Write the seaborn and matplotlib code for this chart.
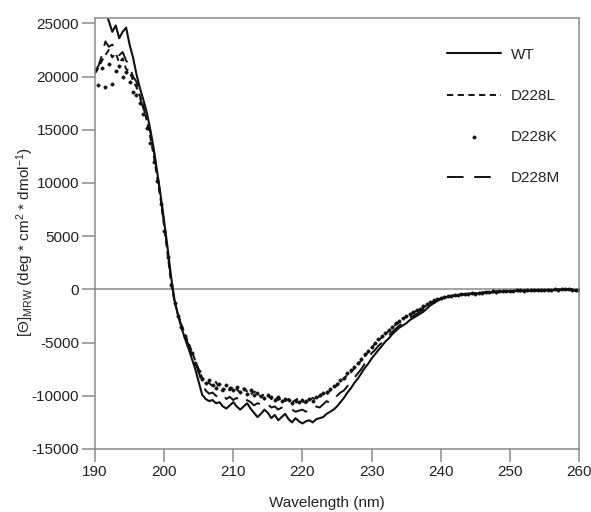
import numpy as np
import pandas as pd
import matplotlib
matplotlib.use("Agg")
import matplotlib.pyplot as plt
import seaborn as sns

# wavelength grid (nm), 0.5 nm steps from 190 to 260
wavelength = np.arange(190, 260.5, 0.5)

wt = [
    28500, 27800, 27000, 26200, 25200, 24200, 24800, 23600, 24200, 24600,
    23000, 21800, 20200, 18900, 17800, 16600, 15000, 13200, 11000, 8800,
    6400, 3900, 1200, -1000, -2400, -3600, -4600, -5500, -6500, -7500,
    -8700, -9900, -10300, -10500, -10400, -10700, -10600, -11000, -11200, -10900,
    -10600, -11000, -11300, -11000, -10700, -11200, -11600, -12000, -11700, -11300,
    -11600, -12100, -11800, -12300, -12000, -11700, -12200, -12500, -12100, -12400,
    -12600, -12400, -12300, -12500, -12200, -12100, -12000, -11700, -11500, -11300,
    -11000, -10600, -10200, -9700, -9300, -8800, -8400, -7900, -7400, -7000,
    -6500, -6100, -5700, -5300, -4900, -4600, -4200, -3900, -3600, -3400,
    -3200, -2900, -2700, -2500, -2300, -2100, -1800, -1500, -1300, -1100,
    -900, -800, -700, -650, -600, -550, -500, -500, -450, -400,
    -450, -350, -300, -350, -250, -300, -200, -250, -200, -150,
    -200, -150, -150, -200, -100, -150, -150, -100, -150, -100,
    -100, -50, -100, -50, -50, 0, 0, -50, 0, -150,
    -100,
]

d228l = [
    20300, 20800, 21500, 22000, 22500, 21800, 22200, 21300, 21700, 20700,
    20500, 19600, 19000, 18200, 17200, 15800, 14300, 12500, 10500, 8400,
    5900, 3300, 600, -1200, -2300, -3300, -4200, -5000, -5800, -6700,
    -7500, -8300, -8600, -8800, -9100, -8700, -9300, -9600, -9200, -9500,
    -9100, -9400, -9700, -9300, -9600, -9900, -9600, -9800, -10100, -9800,
    -10000, -10300, -10100, -10400, -10200, -10500, -10300, -10600, -10400, -10200,
    -10500, -10700, -10400, -10200, -10400, -10000, -9800, -9900, -9500, -9300,
    -9000, -8700, -8400, -8000, -7800, -7400, -7000, -6700, -6300, -5900,
    -5500, -5100, -4800, -4500, -4200, -3900, -3600, -3300, -3100, -2800,
    -2600, -2400, -2200, -2000, -1900, -1700, -1500, -1300, -1100, -950,
    -850, -750, -700, -600, -550, -500, -500, -450, -400, -400,
    -350, -400, -300, -250, -300, -200, -250, -200, -150, -200,
    -150, -150, -100, -150, -100, -150, -100, -100, -50, -100,
    -100, -50, -50, -100, 0, -50, 0, 50, -50, -100,
    -150,
]

d228k = [
    20600, 19200, 20800, 19000, 21200, 19300, 20500, 21000, 20000, 20400,
    19500, 18500, 18300, 17500, 16500, 15200, 13800, 12000, 10200, 8000,
    5500, 3000, 400, -1300, -2500, -3500, -4400, -5200, -6000, -6900,
    -7700, -8400, -8800, -8500, -9000, -9300, -8900, -9400, -9000, -9300,
    -9500, -9200, -9600, -9400, -9800, -9500, -9900, -9700, -10000, -10200,
    -9900, -10100, -10400, -10100, -10500, -10300, -10400, -10700, -10500, -10600,
    -10400, -10500, -10300, -10500, -10100, -9900, -9700, -9600, -9400, -9100,
    -8900, -8500, -8300, -7900, -7600, -7300, -6900, -6500, -6100, -5800,
    -5400, -5000, -4700, -4400, -4100, -3800, -3500, -3200, -3000, -2700,
    -2500, -2300, -2100, -1900, -1800, -1600, -1400, -1200, -1000, -900,
    -800, -750, -650, -600, -550, -500, -450, -450, -400, -350,
    -400, -300, -300, -250, -250, -200, -250, -150, -200, -150,
    -150, -200, -100, -100, -150, -100, -100, -50, -100, -50,
    -50, -100, -50, 0, -50, 0, 50, 0, -50, -100,
    -100,
]

d228m = [
    20500, 21000, 22000, 23300, 22800, 23000, 22600, 22000, 22300, 21500,
    21000, 20000, 19500, 18000, 17000, 16200, 14800, 13000, 10900, 8700,
    6200, 3600, 900, -1100, -2400, -3400, -4300, -5200, -6000, -6900,
    -7800, -8800, -9500, -9800, -9700, -10000, -10200, -9900, -10300, -10100,
    -10400, -10200, -10500, -10700, -10400, -10600, -10900, -10700, -10800, -11000,
    -10800, -11100, -11000, -11300, -11100, -11200, -11400, -11300, -11500, -11400,
    -11300, -11500, -11200, -11300, -11000, -11100, -10800, -10500, -10700, -10300,
    -10000, -9700, -9500, -9100, -8700, -8300, -7900, -7500, -7000, -6600,
    -6000, -5700, -5300, -5000, -4600, -4300, -4000, -3700, -3400, -3200,
    -2900, -2700, -2500, -2300, -2100, -1900, -1700, -1400, -1200, -1000,
    -900, -800, -700, -650, -550, -500, -500, -450, -400, -400,
    -350, -350, -300, -300, -250, -250, -200, -200, -200, -150,
    -150, -150, -150, -100, -100, -100, -150, -100, -50, -100,
    -100, -50, -100, -50, 0, -50, 0, 0, -50, -100,
    -150,
]

x_ticks = [190, 200, 210, 220, 230, 240, 250, 260]
y_ticks = [-15000, -10000, -5000, 0, 5000, 10000, 15000, 20000, 25000]

sns.set_theme(style="white")
plt.rcParams["font.family"] = ["Liberation Sans", "DejaVu Sans"]
plt.rcParams["mathtext.fontset"] = "custom"
plt.rcParams["mathtext.rm"] = "Liberation Sans"
plt.rcParams["mathtext.default"] = "regular"

fig = plt.figure(figsize=(5.91, 5.12), dpi=100)
ax = fig.add_axes([95 / 591, 1 - 449 / 512, (579 - 95) / 591, (449 - 18) / 512])

ink = "#111111"
grey = "#8a8a8a"

ax.axhline(0, color=grey, lw=1.1, zorder=1)

df_wt = pd.DataFrame({"nm": wavelength, "v": wt})
df_l = pd.DataFrame({"nm": wavelength, "v": d228l})
df_k = pd.DataFrame({"nm": wavelength, "v": d228k})
df_m = pd.DataFrame({"nm": wavelength, "v": d228m})

sns.lineplot(data=df_wt, x="nm", y="v", ax=ax, color=ink, lw=1.5, label="WT")
sns.lineplot(data=df_l, x="nm", y="v", ax=ax, color=ink, lw=1.4, label="D228L",
             linestyle=(0, (3.2, 2.3)))
sns.scatterplot(data=df_k, x="nm", y="v", ax=ax, color=ink, s=6, marker="o",
                edgecolor=ink, linewidth=0.3, label="D228K")
sns.lineplot(data=df_m, x="nm", y="v", ax=ax, color=ink, lw=1.4, label="D228M",
             linestyle=(0, (8.5, 5.5)))

ax.set_xlim(190, 260)
ax.set_ylim(-15000, 25500)
ax.set_xticks(x_ticks)
ax.set_yticks(y_ticks)
ax.set_xticklabels([str(t) for t in x_ticks])
ax.set_yticklabels([str(t) for t in y_ticks])

for s in ax.spines.values():
    s.set_visible(True)
    s.set_color(grey)
    s.set_linewidth(1.1)

ax.tick_params(axis="both", which="major", direction="out", length=9.5, width=1.1,
               color=grey, labelsize=11, labelcolor="#222222", pad=2,
               bottom=True, left=True)

ax.set_xlabel("Wavelength (nm)", fontsize=11, color="#222222")
ax.xaxis.set_label_coords((327 - 95) / 484, (449 - 496) / 431)
ax.set_ylabel(r"[Θ]$_{MRW}$ (deg * cm$^{2}$ * dmol$^{-1}$)", fontsize=11,
              color="#222222")
ax.yaxis.set_label_coords((36 - 95) / 484, (449 - 242) / 431)

leg = ax.legend(loc="upper right", bbox_to_anchor=(0.973, 0.945), borderaxespad=0,
                frameon=False, fontsize=11, handlelength=3.5, handletextpad=0.65,
                labelspacing=1.77, markerscale=1.0)

fig.savefig("out.png", dpi=100)
